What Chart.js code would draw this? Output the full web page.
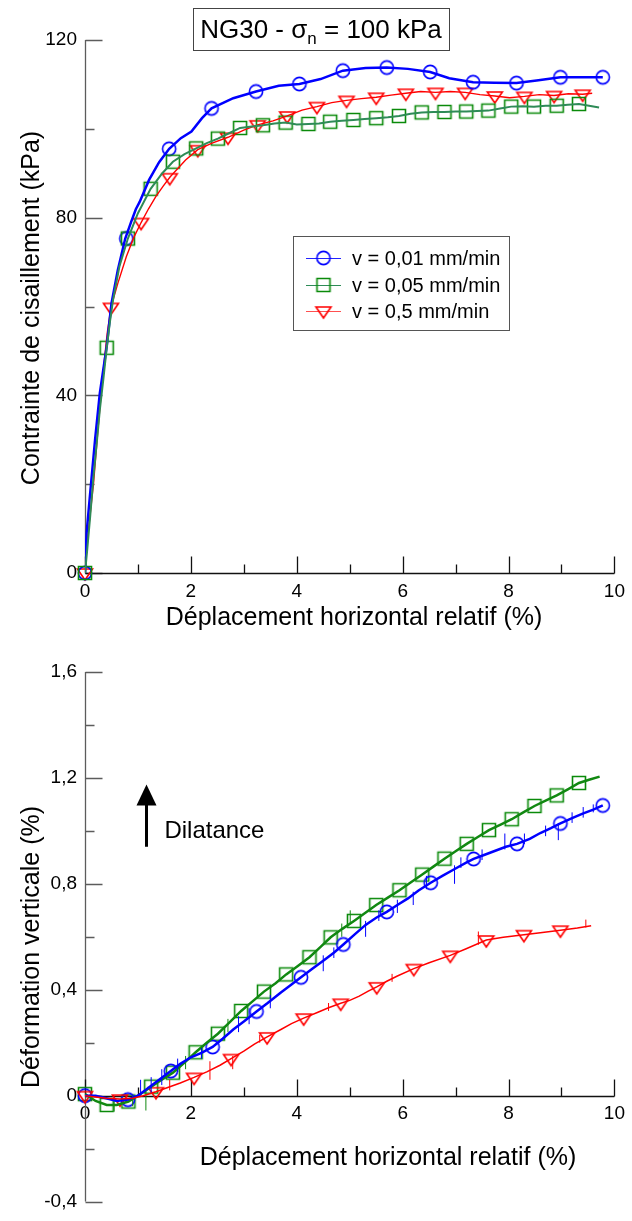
<!DOCTYPE html>
<html>
<head>
<meta charset="utf-8">
<script src="https://cdn.jsdelivr.net/npm/chart.js@4.4.0/dist/chart.umd.min.js"></script>
<style>
  html, body { margin: 0; padding: 0; background: #fff; }
  canvas { display: block; }
</style>
</head>
<body>
<canvas id="shear" width="632" height="650"></canvas>
<canvas id="dilat" width="632" height="571"></canvas>
<script>
// valeurs
const seriesLabels = ['v = 0,01 mm/min', 'v = 0,05 mm/min', 'v = 0,5 mm/min'];
const xLabels = [0, 2, 4, 6, 8, 10];
const shearLabels = [0, 40, 80, 120];
const dilatLabels = [-0.4, 0, 0.4, 0.8, 1.2, 1.6];

// contrainte de cisaillement (kPa) vs deplacement (%)
const shearBlue = [[0,0],[0.03,9],[0.09,17],[0.19,30],[0.28,40.5],[0.41,51],[0.5,60.7],[0.62,68.2],[0.76,75.3],[0.87,79],[0.96,81.9],[1.03,83.5],[1.21,88.5],[1.4,92.5],[1.59,95.5],[1.81,97.9],[2.01,99.4],[2.21,102.4],[2.39,104.6],[2.8,106.9],[3.23,108.4],[3.66,109.7],[4.05,110.1],[4.45,111.2],[4.87,113.1],[5.3,113.7],[5.7,113.8],[6.1,113.5],[6.52,112.8],[6.88,111.4],[7.33,110.5],[7.73,110.4],[8.15,110.3],[8.53,110.9],[8.98,111.6],[9.38,111.6],[9.78,111.6]];
const shearGreen = [[0,0],[0.04,5],[0.1,13],[0.16,21.7],[0.22,29],[0.28,36.7],[0.35,44],[0.41,50.7],[0.47,56.5],[0.53,61.5],[0.65,69],[0.81,75.3],[1,81],[1.24,86.5],[1.46,90],[1.66,92.6],[1.88,94.3],[2.1,95.6],[2.3,96.8],[2.51,97.8],[2.72,99],[2.93,100.2],[3.15,100.5],[3.36,100.8],[3.58,101.2],[3.79,101.4],[4,101],[4.22,101.1],[4.42,101.2],[4.63,101.6],[4.85,101.8],[5.07,102],[5.28,102.2],[5.5,102.4],[5.72,102.6],[5.93,102.9],[6.15,103.4],[6.36,103.7],[6.58,103.8],[6.79,103.8],[7,103.9],[7.2,103.9],[7.41,104],[7.62,104.1],[7.84,104.6],[8.05,105],[8.27,105.1],[8.48,105],[8.7,105.2],[8.91,105.2],[9.12,105.4],[9.33,105.6],[9.52,105.2],[9.71,104.8]];
const shearRed = [[0,0],[0.05,8],[0.16,20],[0.25,33],[0.34,45],[0.42,54],[0.49,59.8],[0.62,65.2],[0.78,71.2],[0.92,75.5],[1.06,78.9],[1.2,82],[1.34,84.8],[1.47,87],[1.61,89.2],[1.9,93],[2.13,95.3],[2.4,96.8],[2.7,98.1],[3,99.7],[3.26,100.9],[3.55,101.8],[3.82,102.9],[4.1,104.2],[4.38,105],[4.66,105.9],[4.94,106.4],[5.22,106.8],[5.5,107.1],[5.78,107.6],[6.06,108],[6.34,108.4],[6.62,108.2],[6.9,108.4],[7.18,108.2],[7.46,107.7],[7.74,107.4],[8.02,107],[8.3,107.3],[8.58,107.7],[8.86,107.5],[9.13,107.9],[9.4,107.8],[9.58,108]];
const shearBlueMarks = [[0,0],[0.78,75.3],[1.59,95.5],[2.39,104.6],[3.23,108.4],[4.05,110.1],[4.87,113.1],[5.7,113.8],[6.52,112.8],[7.33,110.5],[8.15,110.3],[8.98,111.6],[9.78,111.6]];
const shearGreenMarks = [[0,0],[0.41,50.7],[0.81,75.3],[1.24,86.5],[1.66,92.6],[2.1,95.6],[2.51,97.8],[2.93,100.2],[3.36,100.8],[3.79,101.4],[4.22,101.1],[4.63,101.6],[5.07,102],[5.5,102.4],[5.93,102.9],[6.36,103.7],[6.79,103.8],[7.2,103.9],[7.62,104.1],[8.05,105],[8.48,105],[8.91,105.2],[9.33,105.6]];
const shearRedMarks = [[0,0],[0.49,59.8],[1.06,78.9],[1.6,89],[2.13,95.3],[2.7,98.1],[3.26,100.9],[3.82,102.9],[4.38,105],[4.94,106.4],[5.5,107.1],[6.06,108],[6.62,108.2],[7.18,108.2],[7.74,107.4],[8.3,107.3],[8.86,107.5],[9.4,107.8]];

// deformation verticale (%) vs deplacement (%)
const dilatBlue = [[0,0],[0.2,0],[0.4,-0.01],[0.6,-0.02],[0.81,-0.015],[1,0],[1.2,0.03],[1.4,0.06],[1.62,0.093],[1.8,0.12],[2,0.145],[2.2,0.162],[2.41,0.184],[2.6,0.215],[2.8,0.25],[3,0.28],[3.24,0.318],[3.45,0.35],[3.7,0.39],[3.9,0.42],[4.08,0.447],[4.3,0.48],[4.5,0.51],[4.7,0.54],[4.88,0.571],[5.1,0.61],[5.3,0.645],[5.5,0.672],[5.7,0.694],[5.9,0.72],[6.1,0.745],[6.3,0.775],[6.53,0.804],[6.75,0.83],[7,0.858],[7.2,0.88],[7.34,0.894],[7.55,0.91],[7.75,0.925],[7.95,0.94],[8.16,0.951],[8.4,0.97],[8.6,0.992],[8.8,1.01],[8.98,1.028],[9.2,1.048],[9.4,1.065],[9.6,1.08],[9.78,1.096]];
const dilatGreen = [[0,0.006],[0.2,-0.02],[0.41,-0.035],[0.6,-0.035],[0.82,-0.022],[1,0],[1.25,0.034],[1.45,0.06],[1.66,0.087],[1.88,0.125],[2.09,0.164],[2.3,0.2],[2.51,0.234],[2.73,0.277],[2.95,0.32],[3.17,0.357],[3.38,0.393],[3.6,0.425],[3.8,0.458],[4.02,0.49],[4.24,0.523],[4.44,0.56],[4.64,0.598],[4.86,0.63],[5.08,0.66],[5.29,0.69],[5.5,0.72],[5.72,0.748],[5.94,0.776],[6.15,0.805],[6.37,0.835],[6.58,0.865],[6.79,0.895],[7,0.923],[7.21,0.951],[7.42,0.977],[7.63,1.003],[7.85,1.024],[8.06,1.044],[8.27,1.069],[8.49,1.094],[8.7,1.114],[8.91,1.134],[9.12,1.157],[9.33,1.181],[9.52,1.193],[9.72,1.205]];
const dilatRed = [[0,0],[0.2,-0.005],[0.4,-0.01],[0.66,-0.013],[0.9,-0.01],[1.1,0],[1.34,0.015],[1.55,0.03],[1.8,0.048],[2.06,0.069],[2.3,0.09],[2.55,0.115],[2.76,0.14],[3,0.168],[3.2,0.195],[3.44,0.222],[3.7,0.25],[3.9,0.272],[4.13,0.293],[4.4,0.315],[4.6,0.332],[4.83,0.349],[5,0.36],[5.18,0.376],[5.35,0.395],[5.51,0.411],[5.7,0.432],[5.9,0.452],[6.21,0.48],[6.5,0.502],[6.9,0.53],[7.2,0.555],[7.58,0.588],[7.9,0.598],[8.29,0.608],[8.6,0.615],[8.98,0.625],[9.3,0.633],[9.56,0.642]];
// pics de bruit de mesure : [x, bas, haut]
const dilatBlueSpikes = [[1.05,0,0.06],[1.25,0.01,0.07],[1.45,0.04,0.1],[1.75,0.09,0.14],[2.2,0.14,0.18],[2.9,0.24,0.3],[3.1,0.27,0.33],[3.5,0.33,0.38],[4.5,0.47,0.53],[4.7,0.52,0.56],[5.3,0.6,0.66],[5.55,0.66,0.7],[5.9,0.69,0.74],[6.2,0.72,0.77],[6.45,0.78,0.83],[6.98,0.8,0.87],[7.1,0.86,0.9],[7.5,0.89,0.93],[7.93,0.93,0.99],[8.3,0.95,0.99],[8.7,0.98,1.02],[8.94,0.965,1.03],[9.2,1.03,1.07],[9.41,1.05,1.09],[9.6,1.07,1.1]];
const dilatGreenSpikes = [[0.55,-0.06,-0.02],[0.9,-0.04,0],[1.15,-0.056,0.02],[1.9,0.1,0.15],[2.7,0.24,0.29],[4.85,0.6,0.65],[5.01,0.65,0.7]];
const dilatRedSpikes = [[1.6,0.02,0.06],[2.36,0.06,0.13],[2.79,0.1,0.15],[3.3,0.2,0.23],[4.6,0.32,0.35],[5.8,0.43,0.46],[7.43,0.57,0.62],[9.46,0.635,0.665]];
const dilatBlueMarks = [[0,0],[0.81,-0.015],[1.62,0.093],[2.41,0.184],[3.24,0.318],[4.08,0.447],[4.88,0.571],[5.7,0.694],[6.53,0.804],[7.34,0.894],[8.16,0.951],[8.98,1.028],[9.78,1.096]];
const dilatGreenMarks = [[0,0.006],[0.41,-0.035],[0.82,-0.022],[1.25,0.034],[1.66,0.087],[2.09,0.164],[2.51,0.234],[2.95,0.32],[3.38,0.393],[3.8,0.458],[4.24,0.523],[4.64,0.598],[5.08,0.66],[5.5,0.72],[5.94,0.776],[6.37,0.835],[6.79,0.895],[7.21,0.951],[7.63,1.003],[8.06,1.044],[8.49,1.094],[8.91,1.134],[9.33,1.181]];
const dilatRedMarks = [[0,0],[0.66,-0.013],[1.34,0.015],[2.06,0.069],[2.76,0.14],[3.44,0.222],[4.13,0.293],[4.83,0.349],[5.51,0.411],[6.21,0.48],[6.9,0.53],[7.58,0.588],[8.29,0.608],[8.98,0.625]];

const FONT = '"Liberation Sans", Arial, sans-serif';
Chart.defaults.font.family = FONT;
Chart.defaults.color = '#000';

const BLUE = '#0000ff', GREEN = '#0a8a0a', RED = '#ff0000';

function marker(kind, color) {
    const c = document.createElement('canvas');
    c.width = 20; c.height = 20;
    const g = c.getContext('2d');
    g.strokeStyle = color;
    g.lineWidth = 1.6;
    g.beginPath();
    if (kind === 'circle') g.arc(10, 10, 6.6, 0, Math.PI * 2);
    else if (kind === 'square') g.rect(3.5, 3.5, 13, 13);
    else { g.moveTo(2.5, 6); g.lineTo(17.5, 6); g.lineTo(10, 17); g.closePath(); }
    g.stroke();
    return c;
}
const mCircle = marker('circle', BLUE);
const mSquare = marker('square', GREEN);
const mTri = marker('tri', RED);

const pts = arr => arr.map(p => ({x: p[0], y: p[1]}));
const isMajor = (list, v) => list.some(t => Math.abs(t - v) < 1e-6);
const fmt = v => (Math.abs(v) < 1e-9 ? '0' : String(Math.round(v * 10) / 10).replace('.', ','));

function lineSet(data, color, width) {
    return { data: pts(data), showLine: true, borderColor: color, borderWidth: width,
             pointRadius: 0, tension: 0, fill: false };
}
function spikeSet(spikes, color) {
    const data = [];
    spikes.forEach(s => { data.push({x: s[0], y: s[1]}, {x: s[0], y: s[2]}, {x: s[0], y: null}); });
    return { data, showLine: true, spanGaps: false, borderColor: color, borderWidth: 1,
             pointRadius: 0, tension: 0 };
}
function markSet(data, img) {
    return { data: pts(data), showLine: false, pointStyle: img, pointRadius: 7, clip: false };
}

// axes : traits, graduations vers l'interieur, titres
const frame = {
    id: 'frame',
    beforeDatasetsDraw(chart, args, o) {
        const {ctx, chartArea: a, scales: {x, y}} = chart;
        const y0 = Math.round(y.getPixelForValue(0)) + 0.5;
        const left = Math.round(a.left) + 0.5;
        ctx.save();
        ctx.lineWidth = 1.3;
        ctx.strokeStyle = '#5c5c5c';
        ctx.beginPath();
        ctx.moveTo(left, a.top); ctx.lineTo(left, a.bottom);
        y.ticks.forEach(t => {
            const py = Math.round(y.getPixelForValue(t.value)) + 0.5;
            const len = isMajor(o.yLabels, t.value) ? 17 : 9;
            ctx.moveTo(left, py); ctx.lineTo(left + len, py);
        });
        ctx.stroke();
        ctx.strokeStyle = '#111';
        ctx.beginPath();
        ctx.moveTo(left, y0); ctx.lineTo(a.right, y0);
        x.ticks.forEach(t => {
            const px = Math.round(x.getPixelForValue(t.value)) + 0.5;
            const len = isMajor(xLabels, t.value) ? 17 : 9;
            ctx.moveTo(px, y0); ctx.lineTo(px, y0 - len);
        });
        ctx.stroke();
        ctx.restore();
    },
    afterDraw(chart, args, o) {
        const {ctx} = chart;
        ctx.save();
        ctx.fillStyle = '#000';
        ctx.font = '25px ' + FONT;
        ctx.textAlign = 'center';
        ctx.textBaseline = 'middle';
        ctx.fillText(o.xTitle, o.xTitleAt[0], o.xTitleAt[1]);
        ctx.translate(o.yTitleAt[0], o.yTitleAt[1]);
        ctx.rotate(-Math.PI / 2);
        ctx.fillText(o.yTitle, 0, 0);
        ctx.restore();
    }
};

// titre + legende du graphique du haut
const shearDecor = {
    id: 'shearDecor',
    afterDraw(chart) {
        const ctx = chart.ctx;
        ctx.save();
        ctx.strokeStyle = '#444';
        ctx.lineWidth = 1;
        ctx.strokeRect(193.5, 8.5, 256, 42);
        ctx.fillStyle = '#000';
        ctx.textBaseline = 'alphabetic';
        ctx.textAlign = 'left';
        const big = '26px ' + FONT, small = '17px ' + FONT;
        const t1 = 'NG30 - \u03c3', t2 = 'n', t3 = ' = 100 kPa';
        ctx.font = big; const w1 = ctx.measureText(t1).width, w3 = ctx.measureText(t3).width;
        ctx.font = small; const w2 = ctx.measureText(t2).width;
        const xs = 321 - (w1 + w2 + w3) / 2;
        ctx.font = big; ctx.fillText(t1, xs, 38);
        ctx.font = small; ctx.fillText(t2, xs + w1, 44);
        ctx.font = big; ctx.fillText(t3, xs + w1 + w2, 38);

        ctx.strokeStyle = '#555';
        ctx.strokeRect(293.5, 236.5, 216, 94);
        const rows = [258, 285, 311];
        const lineCols = ['#2222ff', '#2e8b57', '#ff5050'];
        const imgs = [mCircle, mSquare, mTri];
        ctx.font = '20px ' + FONT;
        ctx.textBaseline = 'middle';
        rows.forEach((ry, i) => {
            ctx.strokeStyle = lineCols[i];
            ctx.lineWidth = 1.2;
            ctx.beginPath(); ctx.moveTo(306, ry + 0.5); ctx.lineTo(341, ry + 0.5); ctx.stroke();
            ctx.drawImage(imgs[i], 323.5 - 10, ry - 10);
            ctx.fillText(seriesLabels[i], 352, ry + 1);
        });
        ctx.restore();
    }
};

// fleche "Dilatance" du graphique du bas
const dilatDecor = {
    id: 'dilatDecor',
    afterDraw(chart) {
        const {ctx, scales: {x, y}} = chart;
        const ax = Math.round(x.getPixelForValue(1.15)) + 0.5;
        const yb = y.getPixelForValue(0.94), yt = y.getPixelForValue(1.175);
        ctx.save();
        ctx.strokeStyle = '#000'; ctx.fillStyle = '#000';
        ctx.lineWidth = 3;
        ctx.beginPath(); ctx.moveTo(ax, yb); ctx.lineTo(ax, yt + 18); ctx.stroke();
        ctx.beginPath();
        ctx.moveTo(ax, yt); ctx.lineTo(ax - 10, yt + 21); ctx.lineTo(ax + 10, yt + 21); ctx.closePath();
        ctx.fill();
        ctx.font = '24px ' + FONT;
        ctx.textBaseline = 'middle';
        ctx.fillText('Dilatance', x.getPixelForValue(1.5), y.getPixelForValue(1.0));
        ctx.restore();
    }
};

function xScale(extra) {
    return Object.assign({
        type: 'linear', min: 0, max: 10,
        grid: { display: false, drawTicks: false }, border: { display: false },
        ticks: { stepSize: 1, autoSkip: false, maxRotation: 0, padding: 7,
                 font: { size: 19 }, callback: v => isMajor(xLabels, v) ? fmt(v) : '' }
    }, extra);
}

new Chart(document.getElementById('shear'), {
    type: 'scatter',
    data: { datasets: [
        lineSet(shearGreen, '#2e8b57', 2),
        lineSet(shearBlue, BLUE, 2.5),
        lineSet(shearRed, RED, 1.4),
        markSet(shearGreenMarks, mSquare),
        markSet(shearBlueMarks, mCircle),
        markSet(shearRedMarks, mTri)
    ]},
    options: {
        responsive: false, animation: false, events: [], devicePixelRatio: 1,
        layout: { padding: { top: 40, right: 12, left: 0, bottom: 0 } },
        plugins: {
            legend: { display: false }, tooltip: { enabled: false },
            frame: { xTitle: 'Déplacement horizontal relatif (%)', xTitleAt: [354, 618],
                     yTitle: 'Contrainte de cisaillement (kPa)', yTitleAt: [32, 308], yLabels: shearLabels }
        },
        scales: {
            x: xScale({ afterFit: s => { s.height = 77; } }),
            y: {
                type: 'linear', min: 0, max: 120,
                grid: { display: false, drawTicks: false }, border: { display: false },
                ticks: { stepSize: 20, autoSkip: false, padding: 8, font: { size: 19 },
                         callback: v => isMajor(shearLabels, v) ? fmt(v) : '' },
                afterFit: s => { s.width = 85; }
            }
        }
    },
    plugins: [frame, shearDecor]
});

new Chart(document.getElementById('dilat'), {
    type: 'scatter',
    data: { datasets: [
        lineSet(dilatRed, RED, 1.5),
        spikeSet(dilatRedSpikes, RED),
        lineSet(dilatBlue, BLUE, 2.5),
        spikeSet(dilatBlueSpikes, BLUE),
        lineSet(dilatGreen, '#118811', 2.5),
        spikeSet(dilatGreenSpikes, '#118811'),
        markSet(dilatRedMarks, mTri),
        markSet(dilatBlueMarks, mCircle),
        markSet(dilatGreenMarks, mSquare)
    ]},
    options: {
        responsive: false, animation: false, events: [], devicePixelRatio: 1,
        layout: { padding: { top: 22, right: 12, left: 0, bottom: 14 } },
        plugins: {
            legend: { display: false }, tooltip: { enabled: false },
            frame: { xTitle: 'Déplacement horizontal relatif (%)', xTitleAt: [388, 508],
                     yTitle: 'Déformation verticale (%)', yTitleAt: [32, 297], yLabels: dilatLabels }
        },
        scales: {
            x: xScale({ position: { y: 0 } }),
            y: {
                type: 'linear', min: -0.4, max: 1.6,
                grid: { display: false, drawTicks: false }, border: { display: false },
                ticks: { stepSize: 0.2, autoSkip: false, padding: 8, font: { size: 19 },
                         callback: v => isMajor(dilatLabels, v) ? fmt(v) : '' },
                afterFit: s => { s.width = 85; }
            }
        }
    },
    plugins: [frame, dilatDecor]
});
</script>
</body>
</html>
